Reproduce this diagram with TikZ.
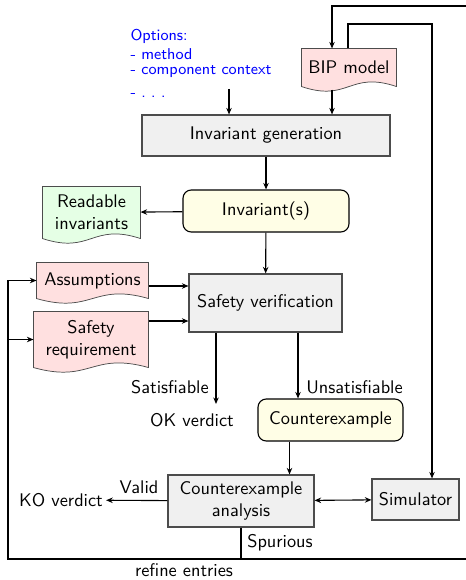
\documentclass[tikz,border=0pt]{standalone}
\usepackage{fontspec}
\usetikzlibrary{arrows.meta,calc,backgrounds}

% one drawing unit, in pt
\newcommand\pu{0.5465pt}

% document symbol with a wavy lower edge, drawn behind the named node
\newcommand\docpath[2]{%
  \path[draw=black!70, fill=#2]
    (#1.north west) -- (#1.north east) -- (#1.south east)
    .. controls ($(#1.south)+(0,-16)$) and ($(#1.south)+(0,16)$) .. (#1.south west)
    -- cycle;}

\begin{document}
\begin{tikzpicture}[x=0.5465pt, y=-0.5465pt, font=\sffamily,
  line width=0.6pt,
  >={Stealth[length=3.6pt,width=3pt]},
  gbox/.style={draw=black!70, fill=black!6, align=center},
  rbox/.style={draw=black, fill=yellow!10, rounded corners=4.5pt, align=center},
  doc/.style={inner sep=1pt, align=center},
  opt/.style={anchor=west, text=blue, inner sep=0pt,
    font=\sffamily\fontsize{8.6}{10}\selectfont},
  lbl/.style={inner sep=1.5pt}]

\useasboundingbox (0,0) rectangle (466,580);
\clip (0,0) rectangle (466,580);

% tool options
\node[opt] (o1) at (130,36) {Options:};
\node[opt] (o2) at (130,54) {- method};
\node[opt] (o3) at (130,72) {- component context};
\node[opt] (o4) at (130,96) {- .\ .\ .};

% main flow
\node[doc, minimum width=94*\pu, minimum height=37*\pu] (bip) at (349,67.5) {BIP model};
\node[gbox, minimum width=248*\pu, minimum height=41*\pu] (ig) at (266,135.5) {Invariant generation};
\node[rbox, minimum width=166*\pu, minimum height=42*\pu] (inv) at (266,211) {Invariant(s)};
\node[doc, minimum width=97*\pu, minimum height=51*\pu] (ri) at (91.5,212.5) {Readable\\invariants};
\node[doc, minimum width=111*\pu, minimum height=35*\pu] (asm) at (92.5,280.5) {Assumptions};
\node[doc, minimum width=114*\pu, minimum height=55*\pu] (sr) at (91,339.5) {Safety\\requirement};
\node[gbox, minimum width=153*\pu, minimum height=58*\pu] (sv) at (265.5,303) {Safety verification};
\node[lbl] (ok) at (192,420) {OK verdict};
\node[rbox, minimum width=145*\pu, minimum height=42*\pu] (cex) at (330.5,420) {Counterexample};
\node[gbox, minimum width=146*\pu, minimum height=52*\pu] (cea) at (241,501) {Counterexample\\analysis};
\node[gbox, minimum width=87*\pu, minimum height=41*\pu] (sim) at (415.5,499.5) {Simulator};
\node[lbl] (ko) at (61,500) {KO verdict};

\begin{scope}[on background layer]
  \docpath{bip}{red!12}
  \docpath{ri}{green!10}
  \docpath{asm}{red!12}
  \docpath{sr}{red!12}
\end{scope}

% edge labels
\node[lbl, anchor=east] (lsat) at (212,387) {Satisfiable};
\node[lbl, anchor=west] (lunsat) at (303,387) {Unsatisfiable};
\node[lbl] (lvalid) at (139,487) {Valid};
\node[lbl] (lspur) at (280,543) {Spurious};
\node[lbl] (lref) at (184,570) {refine entries};

% connector end points
\coordinate (optout) at (229,89);
\coordinate (bipout) at ($(bip.south)+(-17,3)$);
\coordinate (bipin) at ($(bip.north)+(-17,0)$);
\coordinate (bipsim) at ($(bip.north)+(-1,0)$);
\coordinate (simin) at ($(sim.north)+(16.5,0)$);
\coordinate (toprow) at (0,24);
\coordinate (svA) at ($(sv.west)+(0,-17)$);
\coordinate (svB) at ($(sv.west)+(0,18)$);
\coordinate (satout) at ($(sv.south)+(-49.5,0)$);
\coordinate (okin) at (216,404);
\coordinate (unsat) at ($(sv.south)+(32.5,0)$);
\coordinate (cexout) at ($(cex.south)+(-41,0)$);
\coordinate (bl) at (8,559);
\coordinate (br) at (474,559);
\coordinate (tr) at (474,6);

% connectors
\draw[->] (optout) -- (optout |- ig.north);
\draw[->] (bipout) -- (bipout |- ig.north);
\draw[->] (bipsim) -- (bipsim |- toprow) -| (simin);
\draw[->] (ig) -- (inv);
\draw[->] (inv) -- (ri);
\draw[->] (inv) -- (sv);
\draw[->] (asm.east |- svA) -- (svA);
\draw[->] (sr.east |- svB) -- (svB);
\draw[->] (satout) -- (okin);
\draw[->] (unsat) -- (unsat |- cex.north);
\draw[->] (cexout) -- (cexout |- cea.north);
\draw[->] (cea) -- (ko);
\draw[<->] (cea) -- (sim);

% refinement loop
\draw (cea.south) -- (cea.south |- bl);
\draw[->] (cea.south |- bl) -- (bl) |- (asm.west);
\draw[->] (bl |- sr.west) -- (sr.west);
\draw[->] (cea.south |- bl) -- (br) -- (tr) -- (tr -| bipin) -- (bipin);

\end{tikzpicture}
\end{document}
